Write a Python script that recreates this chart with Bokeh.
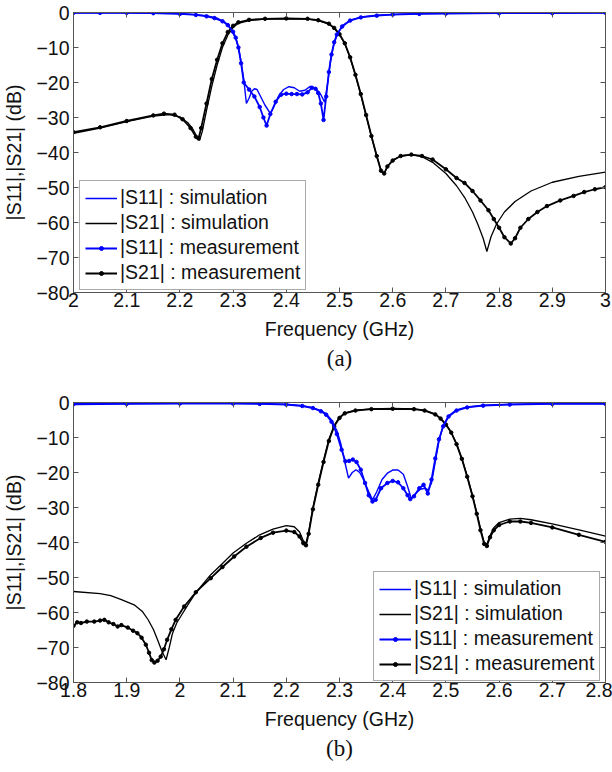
from bokeh.plotting import figure
from bokeh.models import (LinearAxis, FixedTicker, CustomJSTickFormatter, Legend,
                          LegendItem, Title, Range1d)
from bokeh.layouts import column
from bokeh.embed import file_html
from bokeh.resources import INLINE

# ---------------- data: panel (a) ----------------
A_S11_SIM_F = [2.00, 2.10, 2.15, 2.20, 2.23, 2.25, 2.27, 2.285, 2.295, 2.305, 2.31, 2.315, 2.32,
               2.325, 2.33, 2.335, 2.34, 2.345, 2.35, 2.36, 2.37, 2.375, 2.385, 2.395, 2.405,
               2.415, 2.425, 2.435, 2.445, 2.455, 2.465, 2.472, 2.478, 2.483, 2.488, 2.495,
               2.505, 2.52, 2.54, 2.57, 2.62, 2.70, 2.80, 3.00]
A_S11_SIM_DB = [-0.1, -0.1, -0.2, -0.3, -0.6, -0.9, -1.6, -2.8, -4.5, -7.5, -10, -14, -19,
                -26, -24.5, -22.5, -21.8, -22, -23.5, -26.5, -28.8, -27.5, -24, -22, -21.2,
                -21.5, -22.5, -22.2, -21.1, -21.6, -23.5, -25.6, -20, -14, -10, -6.5,
                -3.8, -2.2, -1.3, -0.8, -0.4, -0.2, -0.1, -0.1]

A_S11_MEAS_F = [2.00, 2.05, 2.10, 2.15, 2.20, 2.23, 2.25, 2.265, 2.28, 2.29, 2.30, 2.305, 2.31,
                2.315, 2.32, 2.33, 2.34, 2.35, 2.357, 2.363, 2.37, 2.38, 2.39, 2.40, 2.41,
                2.42, 2.43, 2.44, 2.448, 2.455, 2.46, 2.465, 2.47, 2.475, 2.48, 2.485, 2.49,
                2.495, 2.505, 2.52, 2.54, 2.57, 2.60, 2.65, 2.70, 2.80, 2.90, 3.00]
A_S11_MEAS_DB = [-0.1, -0.1, -0.1, -0.2, -0.4, -0.7, -1.1, -1.6, -2.5, -3.6, -5.5, -7.2, -10,
                 -14.5, -20, -22, -24, -27, -30, -32.3, -29, -25.5, -23.5, -23.2, -23.3,
                 -23.3, -23.4, -22.8, -21.5, -21.8, -23, -26, -30.7, -24, -17, -12, -8.5,
                 -6.3, -4, -2.3, -1.4, -0.9, -0.6, -0.4, -0.3, -0.2, -0.2, -0.1]

A_S21_SIM_F = [2.00, 2.05, 2.10, 2.15, 2.18, 2.20, 2.215, 2.225, 2.232, 2.237, 2.242, 2.25,
               2.26, 2.27, 2.28, 2.29, 2.30, 2.31, 2.33, 2.36, 2.40, 2.44, 2.46, 2.48, 2.49,
               2.50, 2.51, 2.52, 2.53, 2.54, 2.55, 2.56, 2.57, 2.578, 2.584, 2.59, 2.60,
               2.615, 2.635, 2.655, 2.675, 2.70, 2.72, 2.735, 2.75, 2.76, 2.77, 2.777,
               2.785, 2.795, 2.81, 2.83, 2.86, 2.90, 2.95, 3.00]
A_S21_SIM_DB = [-34.5, -33, -31.2, -29.6, -29.2, -29.8, -31.5, -33.5, -35.5, -36.5, -34, -28,
                -21, -15, -10, -6.5, -4.3, -3.1, -2.3, -1.9, -1.8, -1.9, -2.3, -3.3, -4.5,
                -6.3, -9, -13, -18, -23.5, -29.5, -35.5, -41, -45, -46, -44, -42.2,
                -41, -40.6, -41.2, -42.8, -46, -49.5, -52.8, -57, -60.5, -64.5, -68.3,
                -64, -60.5, -57, -54, -51, -48.5, -46.8, -45.6]

A_S21_MEAS_F = [2.00, 2.05, 2.10, 2.15, 2.17, 2.19, 2.205, 2.22, 2.23, 2.235, 2.24, 2.25,
                2.26, 2.27, 2.28, 2.29, 2.30, 2.31, 2.33, 2.36, 2.40, 2.44, 2.46, 2.48, 2.49,
                2.50, 2.51, 2.52, 2.53, 2.54, 2.55, 2.56, 2.57, 2.578, 2.584, 2.59, 2.60,
                2.615, 2.635, 2.655, 2.675, 2.70, 2.72, 2.735, 2.75, 2.765, 2.78, 2.79,
                2.80, 2.81, 2.822, 2.83, 2.84, 2.855, 2.872, 2.89, 2.915, 2.94, 2.96,
                2.98, 3.00]
A_S21_MEAS_DB = [-34.2, -32.8, -31, -29.4, -28.9, -29.2, -30.5, -33, -35.5, -36, -33, -26,
                 -19, -13.5, -8.8, -5.6, -3.8, -2.8, -2.1, -1.8, -1.7, -1.8, -2.2, -3.2, -4.4,
                 -6.2, -8.8, -12.8, -17.8, -23.3, -29.3, -35.3, -41, -45.2, -46, -44, -42.3,
                 -41, -40.6, -41, -42, -44.8, -47.3, -48.7, -51, -53.7, -56.5, -59,
                 -61.5, -64.2, -66, -64.5, -61.5, -59, -57, -55.3, -53.7, -52.4, -51.3,
                 -50.5, -49.9]

# ---------------- data: panel (b) ----------------
B_S11_SIM_F = [1.80, 1.90, 2.00, 2.10, 2.15, 2.20, 2.23, 2.25, 2.265, 2.275, 2.285, 2.295,
               2.302, 2.31, 2.317, 2.324, 2.331, 2.338, 2.345, 2.355, 2.362, 2.37, 2.38,
               2.39, 2.40, 2.41, 2.42, 2.428, 2.435, 2.443, 2.452, 2.46, 2.467, 2.473,
               2.48, 2.487, 2.495, 2.505, 2.52, 2.54, 2.57, 2.62, 2.70, 2.80]
B_S11_SIM_DB = [-0.3, -0.3, -0.2, -0.2, -0.3, -0.5, -0.9, -1.5, -2.3, -3.2, -5, -8,
                -11.5, -17, -21.6, -20, -19.2, -20, -22, -25.5, -27.8, -25.5, -22,
                -20.2, -19.3, -19.3, -20.5, -24, -27.5, -26, -24.8, -24.5, -25, -23,
                -17, -11, -6.5, -3.8, -2.1, -1.3, -0.8, -0.5, -0.3, -0.3]

B_S11_MEAS_F = [1.80, 1.90, 2.00, 2.10, 2.15, 2.20, 2.23, 2.25, 2.265, 2.275, 2.285, 2.295,
                2.304, 2.311, 2.318, 2.325, 2.332, 2.34, 2.348, 2.355, 2.362, 2.368, 2.378,
                2.39, 2.40, 2.41, 2.42, 2.428, 2.433, 2.44, 2.45, 2.458, 2.466, 2.473,
                2.48, 2.487, 2.495, 2.505, 2.52, 2.54, 2.57, 2.62, 2.70, 2.80]
B_S11_MEAS_DB = [-0.5, -0.4, -0.3, -0.3, -0.4, -0.6, -1.0, -1.6, -2.5, -3.5, -5.5, -9,
                 -13.5, -16.8, -16.7, -16.3, -17, -19.2, -23, -26.5, -28.3, -27.8, -24.5,
                 -23, -22.4, -22.8, -24.5, -26.5, -27.6, -26.8, -24.5, -23.5, -26, -22,
                 -16, -10.5, -6.8, -4, -2.3, -1.4, -0.9, -0.6, -0.4, -0.4]

B_S21_SIM_F = [1.80, 1.85, 1.87, 1.89, 1.914, 1.93, 1.94, 1.95, 1.958, 1.966, 1.974, 1.98,
               1.986, 1.994, 2.002, 2.015, 2.027, 2.04, 2.058, 2.08, 2.10, 2.125, 2.15,
               2.175, 2.20, 2.215, 2.225, 2.232, 2.237, 2.242, 2.25, 2.26, 2.27, 2.28,
               2.29, 2.30, 2.31, 2.33, 2.36, 2.40, 2.44, 2.46, 2.48, 2.49, 2.50, 2.51,
               2.52, 2.53, 2.54, 2.55, 2.558, 2.565, 2.572, 2.577, 2.583, 2.59, 2.60,
               2.62, 2.64, 2.66, 2.70, 2.75, 2.80]
B_S21_SIM_DB = [-54, -54.6, -55.2, -56.3, -57.8, -59.8, -62, -64.8, -67.8, -71, -73.5, -70,
                -66, -63, -61, -57.8, -55, -52.5, -49.2, -46, -43, -40.2, -37.8,
                -36.2, -35.2, -35.5, -37, -39.5, -40.2, -37, -30, -23, -16.5, -10.5,
                -6.5, -4.2, -3, -2.2, -1.8, -1.7, -1.8, -2.2, -3.3, -4.5, -6.2, -8.5,
                -11.8, -16, -21, -26.5, -31.5, -36, -40, -40.5, -38, -35.8, -34.3,
                -33.3, -33.1, -33.5, -34.7, -36.4, -38.2]

B_S21_MEAS_F = [1.80, 1.807, 1.814, 1.825, 1.839, 1.85, 1.858, 1.866, 1.875, 1.883, 1.89,
                1.902, 1.912, 1.92, 1.928, 1.936, 1.942, 1.947, 1.952, 1.958, 1.964, 1.97,
                1.976, 1.984, 1.992, 2.008, 2.03, 2.058, 2.08, 2.102, 2.125, 2.152, 2.175,
                2.20, 2.215, 2.225, 2.232, 2.237, 2.242, 2.25, 2.26, 2.27, 2.28, 2.29,
                2.30, 2.31, 2.33, 2.36, 2.40, 2.44, 2.46, 2.48, 2.49, 2.50, 2.51, 2.52,
                2.53, 2.54, 2.55, 2.558, 2.565, 2.572, 2.577, 2.583, 2.59, 2.60, 2.62,
                2.64, 2.66, 2.70, 2.75, 2.80]
B_S21_MEAS_DB = [-63.8, -62.8, -63, -62.6, -62.6, -62.3, -62.1, -62.8, -63.3, -64, -63.6,
                 -64.3, -65.2, -65.9, -67.2, -69.2, -71.5, -73.6, -74.3, -73.8, -72.6, -70.5,
                 -67.8, -64.8, -62.1, -58.3, -54.2, -50.2, -47, -44, -41.2, -38.7, -37.2,
                 -36.6, -37, -38.3, -40.2, -40.8, -37.5, -30.5, -23.5, -17, -11, -6.8,
                 -4.4, -3.1, -2.3, -1.9, -1.8, -1.9, -2.3, -3.4, -4.6, -6.3, -8.6, -11.9,
                 -16.1, -21.2, -26.8, -31.8, -36.5, -40.4, -41, -38.5, -36.5, -35, -34,
                 -34, -34.4, -35.7, -37.8, -39.8]

# ---------------- axes / labels ----------------
A_XTICKS = [2.0, 2.1, 2.2, 2.3, 2.4, 2.5, 2.6, 2.7, 2.8, 2.9, 3.0]
B_XTICKS = [1.8, 1.9, 2.0, 2.1, 2.2, 2.3, 2.4, 2.5, 2.6, 2.7, 2.8]
YTICKS = [-80, -70, -60, -50, -40, -30, -20, -10, 0]
LEGEND_LABELS = ["|S11| : simulation", "|S21| : simulation",
                 "|S11| : measurement", "|S21| : measurement"]
X_LABEL = "Frequency (GHz)"
Y_LABEL = "|S11|,|S21| (dB)"

BLUE = "#0000ff"
BLACK = "#000000"
AX_COL = "#555555"
SANS = "Liberation Sans"
SERIF = "Liberation Serif"
FS = "19.5px"


def panel(xr, xticks, s11s, s11m, s21s, s21m, tag, height, mb, leg_loc):
    p = figure(width=612, height=height, x_range=Range1d(*xr), y_range=Range1d(-80, 0),
               output_backend="svg", toolbar_location=None,
               min_border_left=72, min_border_right=7, min_border_top=12,
               min_border_bottom=mb, background_fill_color="white")
    p.xgrid.visible = False
    p.ygrid.visible = False
    p.outline_line_color = AX_COL

    r21m = p.line(s21m[0], s21m[1], color=BLACK, line_width=1.8)
    r21mp = p.scatter(s21m[0], s21m[1], marker="circle", size=3.5, color=BLACK)
    r21s = p.line(s21s[0], s21s[1], color=BLACK, line_width=1.3)
    r11m = p.line(s11m[0], s11m[1], color=BLUE, line_width=1.8)
    r11mp = p.scatter(s11m[0], s11m[1], marker="circle", size=3.5, color=BLUE)
    r11s = p.line(s11s[0], s11s[1], color=BLUE, line_width=1.4)

    xa = p.xaxis[0]
    xa.ticker = FixedTicker(ticks=xticks)
    xa.formatter = CustomJSTickFormatter(code="return String(Number(tick.toFixed(1)));")
    ya = p.yaxis[0]
    ya.ticker = FixedTicker(ticks=YTICKS)
    for ax in (xa, ya):
        ax.major_tick_in = 5
        ax.major_tick_out = 0
        ax.minor_tick_line_color = None
        ax.axis_line_color = AX_COL
        ax.major_tick_line_color = AX_COL
        ax.major_label_text_font = SANS
        ax.major_label_text_font_size = FS
        ax.major_label_text_color = "#111111"
        ax.axis_label_text_font = SANS
        ax.axis_label_text_font_size = FS
        ax.axis_label_text_font_style = "normal"
        ax.axis_label_text_color = "#111111"
    xa.axis_label = X_LABEL
    xa.major_label_standoff = 0
    xa.axis_label_standoff = 8
    ya.axis_label = Y_LABEL
    ya.major_label_standoff = 4
    ya.axis_label_standoff = 8

    blank = "return '';"
    top = LinearAxis(ticker=FixedTicker(ticks=xticks),
                     formatter=CustomJSTickFormatter(code=blank),
                     major_label_standoff=0, major_tick_in=5, major_tick_out=0,
                     minor_tick_line_color=None, axis_line_color=AX_COL,
                     major_tick_line_color=AX_COL)
    right = LinearAxis(ticker=FixedTicker(ticks=YTICKS),
                       formatter=CustomJSTickFormatter(code=blank),
                       major_label_standoff=0, major_tick_in=5, major_tick_out=0,
                       minor_tick_line_color=None, axis_line_color=AX_COL,
                       major_tick_line_color=AX_COL)
    p.add_layout(top, "above")
    p.add_layout(right, "right")

    t = Title(text=tag, align="center", text_font=SERIF, text_font_size="23px",
              text_font_style="normal", text_color="#111111", standoff=3)
    p.add_layout(t, "below")

    items = [LegendItem(label=LEGEND_LABELS[0], renderers=[r11s]),
             LegendItem(label=LEGEND_LABELS[1], renderers=[r21s]),
             LegendItem(label=LEGEND_LABELS[2], renderers=[r11m, r11mp]),
             LegendItem(label=LEGEND_LABELS[3], renderers=[r21m, r21mp])]
    leg = Legend(items=items, location=leg_loc, margin=0, padding=5, spacing=2,
                 glyph_width=32, glyph_height=10, label_height=20, label_standoff=3,
                 label_text_font=SANS, label_text_font_size=FS, label_text_color="#111111",
                 border_line_color=AX_COL, border_line_width=1,
                 background_fill_color="white", background_fill_alpha=1.0)
    p.add_layout(leg)
    return p


pa = panel((2.0, 3.0), A_XTICKS,
           (A_S11_SIM_F, A_S11_SIM_DB), (A_S11_MEAS_F, A_S11_MEAS_DB),
           (A_S21_SIM_F, A_S21_SIM_DB), (A_S21_MEAS_F, A_S21_MEAS_DB),
           "(a)", 390, 98, (6, 2))
pb = panel((1.8, 2.8), B_XTICKS,
           (B_S11_SIM_F, B_S11_SIM_DB), (B_S11_MEAS_F, B_S11_MEAS_DB),
           (B_S21_SIM_F, B_S21_SIM_DB), (B_S21_MEAS_F, B_S21_MEAS_DB),
           "(b)", 380, 88, (300, 1))

layout = column(pa, pb, spacing=0)
open("out.html", "w").write(file_html(layout, INLINE))
